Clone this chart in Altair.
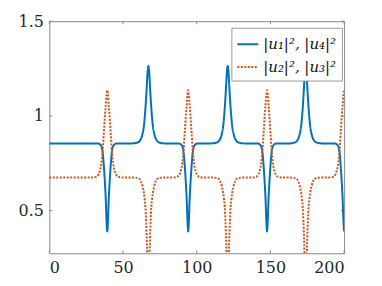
import altair as alt
import pandas as pd

# ---- values ----
x_ticks = [0, 50, 100, 150, 200]
y_ticks = [0.5, 1, 1.5]
y_domain = [0.275, 1.5]

series_names = ["|u₁|², |u₄|²", "|u₂|², |u₃|²"]
blue_base = 0.855
orange_base = 0.675

# pulse centres (x)
dip_centres = [39.3, 94.2, 147.7, 200.0]   # blue dips / orange peaks
peak_centres = [67.2, 121.0, 173.9]        # blue peaks / orange dips

# pulse profiles sampled at these offsets from the centre
offsets = [-11, -8, -6, -5, -4, -3, -2.5, -2, -1.5, -1, -0.5, 0,
           0.5, 1, 1.5, 2, 2.5, 3, 4, 5, 6, 8, 11]
blue_peak = [0.855, 0.858, 0.867, 0.88, 0.905, 0.95, 0.99, 1.04, 1.10, 1.17, 1.235, 1.263,
             1.235, 1.17, 1.10, 1.04, 0.99, 0.95, 0.905, 0.88, 0.867, 0.858, 0.855]
blue_dip = [0.855, 0.855, 0.854, 0.85, 0.84, 0.80, 0.755, 0.70, 0.635, 0.56, 0.45, 0.39,
            0.45, 0.56, 0.635, 0.70, 0.755, 0.80, 0.84, 0.85, 0.854, 0.855, 0.855]
orange_peak = [0.675, 0.677, 0.69, 0.71, 0.75, 0.83, 0.89, 0.95, 1.01, 1.06, 1.11, 1.135,
               1.11, 1.06, 1.01, 0.95, 0.89, 0.83, 0.75, 0.71, 0.69, 0.677, 0.675]
orange_dip = [0.675, 0.673, 0.667, 0.655, 0.63, 0.59, 0.56, 0.52, 0.44, 0.33, 0.20, 0.12,
              0.20, 0.33, 0.44, 0.52, 0.56, 0.59, 0.63, 0.655, 0.667, 0.673, 0.675]


def build(name, base, dip_prof, peak_prof):
    pts = [(0.0, base)]
    events = [(c, dip_prof) for c in dip_centres] + [(c, peak_prof) for c in peak_centres]
    events.sort(key=lambda e: e[0])
    for c, prof in events:
        for o, v in zip(offsets, prof):
            xx = c + o
            if 0 <= xx <= 200:
                pts.append((xx, v))
    return [{"x": a, "y": b, "series": name} for a, b in pts]


rows = build(series_names[0], blue_base, blue_dip, blue_peak) + \
       build(series_names[1], orange_base, orange_peak, orange_dip)
df = pd.DataFrame(rows)

W, H = 296, 233
TL = 3  # tick length (inward)
FONT = "DejaVu Serif"
tick_color = "#888888"

axis_style = dict(title=None, domain=False, ticks=False, grid=False,
                  labelFont=FONT, labelFontSize=16, labelColor="#262626", labelPadding=6)

xscale = alt.Scale(domain=[0, 200], nice=False, zero=False)
yscale = alt.Scale(domain=y_domain, nice=False, zero=False)
xaxis = alt.Axis(values=x_ticks, format="d", **axis_style)
yaxis = alt.Axis(values=y_ticks,
                 labelExpr="datum.value == 1 ? '1' : format(datum.value, '.1f')", **axis_style)

legend = alt.Legend(
    title=None, orient="none", legendX=182.8, legendY=6.6,
    fillColor="white", strokeColor="#999999", padding=5, rowPadding=3,
    symbolType="stroke", symbolSize=441, symbolStrokeWidth=2,
    labelFont=FONT, labelFontSize=15, labelFontStyle="italic",
    labelColor="#111111", labelOffset=4, cornerRadius=0, labelLimit=200,
)

lines = alt.Chart(df).mark_line(clip=True, interpolate="monotone", strokeWidth=2).encode(
    x=alt.X("x:Q", scale=xscale, axis=xaxis),
    y=alt.Y("y:Q", scale=yscale, axis=yaxis),
    color=alt.Color("series:N", scale=alt.Scale(domain=series_names, range=["#0072BD", "#D95319"]),
                    legend=legend),
    strokeDash=alt.StrokeDash("series:N", scale=alt.Scale(domain=series_names, range=[[1, 0], [2, 1.5]]),
                              legend=legend),
    order=alt.Order("x:Q"),
)

xt = pd.DataFrame({"x": x_ticks})
yt = pd.DataFrame({"y": y_ticks})

xt_bottom = alt.Chart(xt).mark_rule(color=tick_color, strokeWidth=1).encode(
    x=alt.X("x:Q", scale=xscale, axis=xaxis), y=alt.value(H), y2=alt.value(H - TL))
xt_top = alt.Chart(xt).mark_rule(color=tick_color, strokeWidth=1).encode(
    x=alt.X("x:Q", scale=xscale, axis=xaxis), y=alt.value(0), y2=alt.value(TL))
yt_left = alt.Chart(yt).mark_rule(color=tick_color, strokeWidth=1).encode(
    y=alt.Y("y:Q", scale=yscale, axis=yaxis), x=alt.value(0), x2=alt.value(TL))
yt_right = alt.Chart(yt).mark_rule(color=tick_color, strokeWidth=1).encode(
    y=alt.Y("y:Q", scale=yscale, axis=yaxis), x=alt.value(W), x2=alt.value(W - TL))

chart = alt.layer(xt_bottom, xt_top, yt_left, yt_right, lines).properties(
    width=W, height=H,
    autosize=alt.AutoSizeParams(type="none"),
    padding={"left": 41.5, "top": 12.7, "right": 30, "bottom": 30},
).configure_view(
    stroke=tick_color, strokeWidth=1
)

chart.save("out.html", embed_options={"renderer": "svg", "actions": False})
